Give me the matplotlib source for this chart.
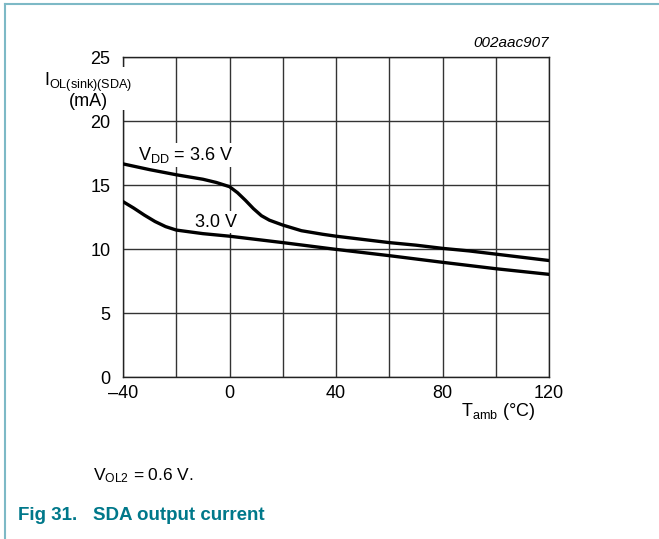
import matplotlib
matplotlib.use("Agg")
import matplotlib.pyplot as plt
from matplotlib.lines import Line2D

plt.rcParams['font.family'] = ['Liberation Sans', 'DejaVu Sans']
plt.rcParams['mathtext.fontset'] = 'custom'
plt.rcParams['mathtext.rm'] = 'Liberation Sans'
plt.rcParams['mathtext.it'] = 'Liberation Sans:italic'

# values
temp_36 = [-40, -30, -20, -10, -5, 0, 3, 6, 9, 12, 15, 20, 27, 35, 40, 50, 60, 70, 80, 90, 100, 110, 120]
iol_36 = [16.65, 16.2, 15.8, 15.45, 15.2, 14.87, 14.4, 13.8, 13.15, 12.6, 12.25, 11.87, 11.43, 11.15, 11.0,
          10.75, 10.5, 10.3, 10.05, 9.85, 9.6, 9.35, 9.1]
temp_30 = [-40, -36, -32, -28, -24, -20, -10, 0, 20, 40, 60, 80, 100, 120]
iol_30 = [13.7, 13.2, 12.65, 12.15, 11.75, 11.48, 11.2, 11.0, 10.5, 9.97, 9.48, 8.96, 8.46, 8.02]

x_ticks = [-40, 0, 40, 80, 120]
x_grid = list(range(-40, 121, 20))
y_ticks = [0, 5, 10, 15, 20, 25]

teal = '#00788A'
frame = '#7DB9C6'

fig = plt.figure(figsize=(6.59, 5.39), dpi=100)
ax = fig.add_axes([123 / 659, 1 - 377 / 539, 426 / 659, 320 / 539])

ax.set_xlim(-40, 120)
ax.set_ylim(0, 25)
ax.set_xticks(x_grid)
ax.set_xticklabels([str(v).replace('-', '\u2013') if v in x_ticks else '' for v in x_grid])
ax.set_yticks(y_ticks)
ax.grid(True, color='#333333', linewidth=1.0)
ax.tick_params(length=0, labelsize=13, pad=9)
ax.tick_params(axis='x', pad=6)
for s in ax.spines.values():
    s.set_linewidth(1.0)
    s.set_color('#222222')

ax.plot(temp_36, iol_36, color='black', linewidth=2.4, zorder=5)
ax.plot(temp_30, iol_30, color='black', linewidth=2.4, zorder=5)

ax.text(-34.5, 16.95, r'V$_{\mathregular{DD}}$ = 3.6 V', fontsize=13, zorder=4,
        bbox=dict(facecolor='white', edgecolor='none', pad=1.5))
ax.text(-13, 11.75, '3.0 V', fontsize=13, zorder=4,
        bbox=dict(facecolor='white', edgecolor='none', pad=1.5))

# y label sits over the left spine with a white background
ax.text(-53, 22.4, 'I$_{\\mathregular{OL(sink)(SDA)}}$\n(mA)', fontsize=13, ha='center', va='center',
        linespacing=0.9, zorder=10, clip_on=False,
        bbox=dict(facecolor='white', edgecolor='none', pad=0))

ax.text(120, 25.55, '002aac907', fontsize=11, style='italic', ha='right', va='bottom')
ax.text(115, -1.9, r'T$_{\mathregular{amb}}$ ($\degree$C)', fontsize=13, ha='right', va='top')

fig.text(93 / 659, 1 - 476 / 539, r'V$_{\mathregular{OL2}}$ = 0.6 V.', fontsize=12.5, va='center')
fig.text(18 / 659, 1 - 516 / 539, 'Fig 31.   SDA output current', fontsize=13.5, fontweight='bold',
         color=teal, va='center')

fig.add_artist(Line2D([5 / 659, 5 / 659], [0, 1 - 4 / 539], color=frame, linewidth=1.5))
fig.add_artist(Line2D([5 / 659, 1], [1 - 4 / 539, 1 - 4 / 539], color=frame, linewidth=1.5))

fig.savefig('out.png', dpi=100)
